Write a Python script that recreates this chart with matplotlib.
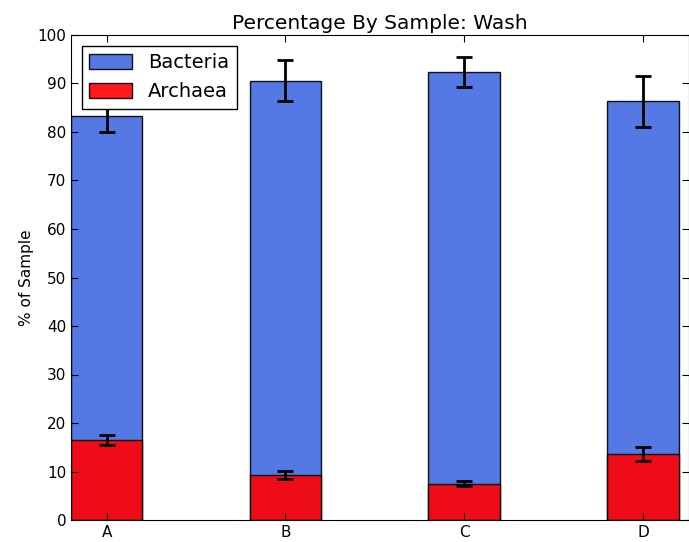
import numpy as np
import matplotlib
matplotlib.use("Agg")
import matplotlib.pyplot as plt

samples = ["A", "B", "C", "D"]
bacteria = [83.3, 90.6, 92.4, 86.3]
bacteria_err = [3.3, 4.2, 3.1, 5.2]
archaea = [16.5, 9.3, 7.5, 13.6]
archaea_err = [1.0, 0.85, 0.55, 1.5]

fig = plt.figure(figsize=(6.89, 5.42), dpi=100)
ax = fig.add_axes([71 / 689, 22 / 542, 617.5 / 689, 485 / 542])

x = np.arange(len(samples))
width = 0.4
err_kw = dict(ecolor="black", elinewidth=2, capsize=6, capthick=2)

ax.bar(x, bacteria, width, align="edge", color="royalblue", alpha=0.9,
       edgecolor="black", linewidth=1, yerr=bacteria_err, error_kw=err_kw,
       label="Bacteria")
ax.bar(x, archaea, width, align="edge", color="red", alpha=0.9,
       edgecolor="black", linewidth=1, yerr=archaea_err, error_kw=err_kw,
       label="Archaea")

ax.set_xlim(0, 3.455)
ax.set_ylim(0, 100)
ax.set_yticks(np.arange(0, 101, 10))
ax.set_xticks(x + width / 2)
ax.set_xticklabels(samples)
ax.tick_params(direction="in", top=True, right=True, labelsize=11, length=5)
ax.set_ylabel("% of Sample", fontsize=11, labelpad=2)
ax.set_title("Percentage By Sample: Wash", fontsize=14.5, pad=4)

leg = ax.legend(loc="upper left", fontsize=14, fancybox=False, framealpha=1,
                edgecolor="black", handlelength=2.2, handleheight=0.8,
                borderaxespad=0.55)
leg.get_frame().set_linewidth(1)

fig.savefig("out.png", dpi=100)
